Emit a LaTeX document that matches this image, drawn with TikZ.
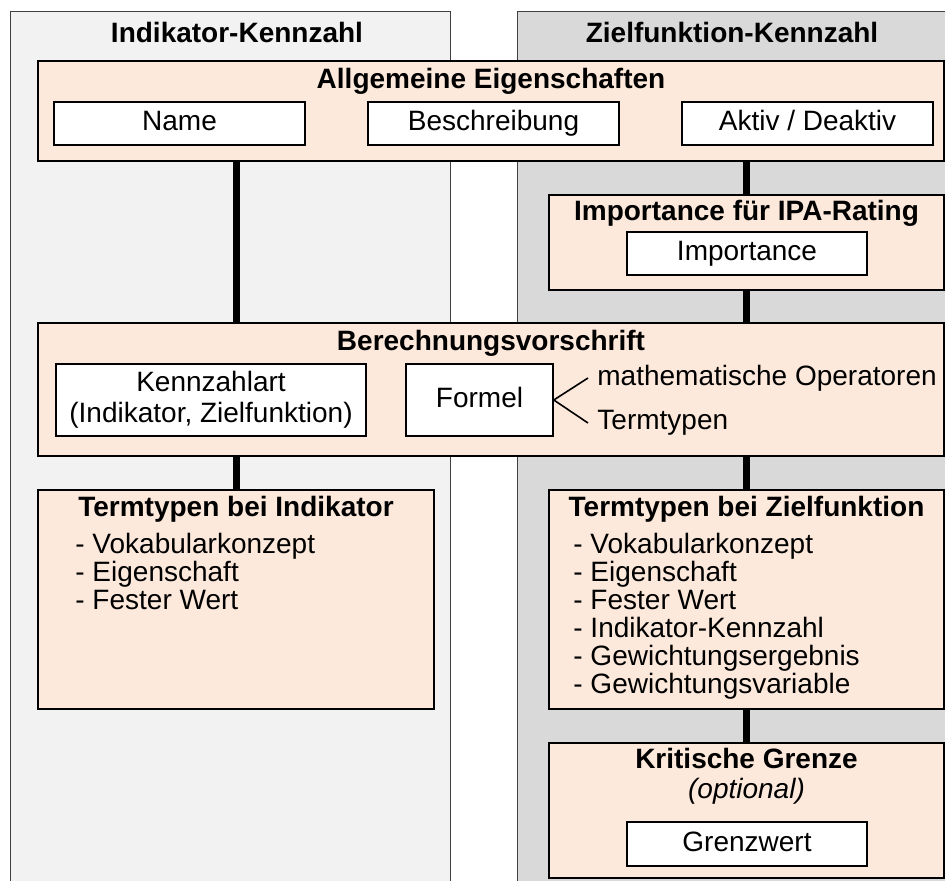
\documentclass[tikz,border=0pt]{standalone}
\usepackage{fontspec}
\setmainfont{Liberation Sans}
\usetikzlibrary{positioning}

\definecolor{peach}{RGB}{253,233,219}
\definecolor{lightcol}{RGB}{242,242,242}
\definecolor{darkcol}{RGB}{217,217,217}

\begin{document}
\begin{tikzpicture}[
  x=0.5pt, y=-0.5pt,
  group/.style={draw, line width=0.8pt, fill=peach, inner sep=0pt},
  field/.style={draw, line width=0.8pt, fill=white, inner sep=0pt, align=center, font=\fontsize{14}{15.5}\selectfont},
  slot/.style={field, text height=10pt, text depth=2.5pt},
  title/.style={inner sep=0pt, align=center, font=\fontsize{14}{15}\selectfont\bfseries},
  label/.style={inner sep=4.5pt, font=\fontsize{14}{15}\selectfont},
  items/.style={inner sep=0pt, align=left, anchor=north west, font=\fontsize{14}{14}\selectfont},
  link/.style={line width=3.5pt},
  column/.style={draw=black!75, line width=0.5pt}
]
\useasboundingbox (0,0) rectangle (945,881);

% Columns
\fill[lightcol] (10,12) rectangle (450,881);
\draw[column] (10,881) -- (10,12) -- (450,12) -- (450,881);
\fill[darkcol] (517,12) rectangle (945,881);
\draw[column] (517,881) -- (517,12) -- (945,12);
\node[title] (hind) at (237,32) {Indikator-Kennzahl};
\node[title] (hzf) at (732,32) {Zielfunktion-Kennzahl};

% Nodes
\node[group, minimum width=453pt, minimum height=50pt] (allg) at (491,111) {};
\node[title] (allgt) at (491,81) {Allgemeine Eigenschaften};
\node[slot, minimum width=125.5pt, minimum height=21.5pt] (name) at (179.5,123.5) {Name};
\node[slot, minimum width=125.5pt, minimum height=21.5pt] (beschr) at (493.5,123.5) {Beschreibung};
\node[slot, minimum width=125.5pt, minimum height=21.5pt] (aktiv) at (807.5,123.5) {Aktiv / Deaktiv};

\node[group, minimum width=197.5pt, minimum height=47.5pt] (imp) at (746.5,242.5) {};
\node[title] (impt) at (746.5,213) {Importance für IPA-Rating};
\node[slot, minimum width=120pt, minimum height=21.5pt] (impf) at (747,253.5) {Importance};

\node[group, minimum width=453pt, minimum height=66.5pt] (ber) at (491,389.5) {};
\node[title] (bert) at (491,343) {Berechnungsvorschrift};
\node[field, minimum width=155pt, minimum height=36pt] (kart) at (211,400) {Kennzahlart\\(Indikator, Zielfunktion)};
\node[slot, minimum width=73.5pt, minimum height=36pt] (formel) at (479.5,400) {Formel};
\node[label, anchor=west] (ops) at (588,378) {mathematische Operatoren};
\node[label, anchor=west] (terms) at (588,423) {Termtypen};

\node[group, minimum width=198pt, minimum height=109.5pt] (ind) at (236,599.5) {};
\node[title] (indt) at (236,509) {Termtypen bei Indikator};
\node[items] (indl) at (75,532.5) {- Vokabularkonzept\\- Eigenschaft\\- Fester Wert};

\node[group, minimum width=197.5pt, minimum height=109.5pt] (zf) at (746.5,599.5) {};
\node[title] (zft) at (746.5,509) {Termtypen bei Zielfunktion};
\node[items] (zfl) at (573,532.5) {- Vokabularkonzept\\- Eigenschaft\\- Fester Wert\\- Indikator-Kennzahl\\- Gewichtungsergebnis\\- Gewichtungsvariable};

\node[group, minimum width=197.5pt, minimum height=67.5pt] (krit) at (746.5,810.5) {};
\node[title] (kritt) at (746.5,776) {Kritische Grenze\\{\normalfont\itshape (optional)}};
\node[slot, minimum width=120pt, minimum height=22pt] (grenz) at (747,844) {Grenzwert};

% Links
\draw[line width=0.8pt] (formel.east) -- (ops.west);
\draw[line width=0.8pt] (formel.east) -- (terms.west);
\draw[link] (allg.south -| ind) -- (ber.north -| ind);
\draw[link] (ber.south -| ind) -- (ind.north);
\draw[link] (allg.south -| imp) -- (imp.north);
\draw[link] (imp.south) -- (ber.north -| imp);
\draw[link] (ber.south -| zf) -- (zf.north);
\draw[link] (zf.south) -- (krit.north);

\end{tikzpicture}
\end{document}
